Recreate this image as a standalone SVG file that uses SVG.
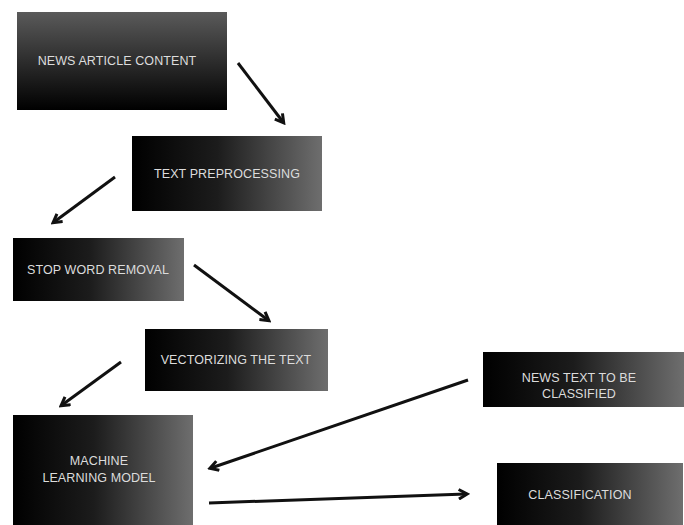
<svg xmlns="http://www.w3.org/2000/svg" width="684" height="525" viewBox="0 0 684 525">
<style>
.lbl{font-family:"Liberation Sans",Arial,sans-serif;font-size:12.5px;fill:#dcdcdc;text-anchor:middle;letter-spacing:0.1px}
.con{stroke:#111;stroke-width:3;fill:none;marker-end:url(#ah)}
</style>
<defs>
<linearGradient id="gv" x1="0" y1="0" x2="0" y2="1">
<stop offset="0" stop-color="#5a5a5a"/><stop offset="1" stop-color="#000"/>
</linearGradient>
<linearGradient id="gh" x1="0" y1="0" x2="1" y2="0">
<stop offset="0" stop-color="#000"/><stop offset="0.45" stop-color="#1c1c1c"/><stop offset="1" stop-color="#6e6e6e"/>
</linearGradient>
<marker id="ah" viewBox="0 0 10 10" refX="7" refY="5" markerWidth="4" markerHeight="4" orient="auto" markerUnits="strokeWidth">
<path d="M1,1 L8,5 L1,9" fill="none" stroke="#111" stroke-width="2.5"/>
</marker>
</defs>
<rect width="684" height="525" fill="#fff"/>
<g id="n1"><rect x="17" y="12" width="210" height="98" fill="url(#gv)"/><text class="lbl" x="117" y="65">NEWS ARTICLE CONTENT</text></g>
<g id="n2"><rect x="132" y="136" width="190" height="75" fill="url(#gh)"/><text class="lbl" x="227" y="178">TEXT PREPROCESSING</text></g>
<g id="n3"><rect x="13" y="238" width="171" height="63" fill="url(#gh)"/><text class="lbl" x="98" y="274">STOP WORD REMOVAL</text></g>
<g id="n4"><rect x="145" y="329" width="183" height="62" fill="url(#gh)"/><text class="lbl" x="236" y="364">VECTORIZING THE TEXT</text></g>
<g id="n5"><rect x="13" y="415" width="180" height="110" fill="url(#gh)"/><text class="lbl" x="99" y="465">MACHINE</text><text class="lbl" x="99" y="482">LEARNING MODEL</text></g>
<g id="n6"><rect x="483" y="352" width="201" height="55" fill="url(#gh)"/><text class="lbl" x="579" y="382">NEWS TEXT TO BE</text><text class="lbl" x="579" y="398">CLASSIFIED</text></g>
<g id="n7"><rect x="497" y="463" width="186" height="62" fill="url(#gh)"/><text class="lbl" x="580" y="499">CLASSIFICATION</text></g>
<g id="connectors">
<line class="con" x1="238" y1="63" x2="283" y2="122"/>
<line class="con" x1="115" y1="177" x2="54" y2="222"/>
<line class="con" x1="194" y1="265" x2="268" y2="320"/>
<line class="con" x1="121" y1="362" x2="62" y2="405"/>
<line class="con" x1="468" y1="380" x2="211" y2="468"/>
<line class="con" x1="209" y1="503" x2="466" y2="494"/>
</g>
</svg>
